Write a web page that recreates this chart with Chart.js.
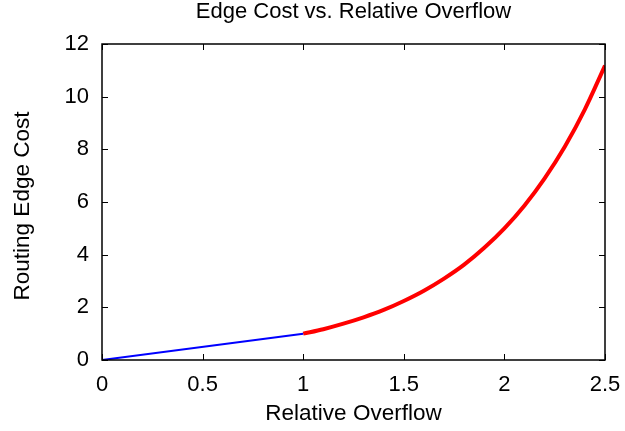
<!DOCTYPE html>
<html>
<head>
<meta charset="utf-8">
<script src="https://cdn.jsdelivr.net/npm/chart.js@4/dist/chart.umd.min.js"></script>
<style>
html,body{margin:0;padding:0;background:#fff;}
canvas{display:block;}
</style>
</head>
<body>
<canvas id="c" width="625" height="431"></canvas>
<script>
const titleText = 'Edge Cost vs. Relative Overflow';
const xAxisTitle = 'Relative Overflow';
const yAxisTitle = 'Routing Edge Cost';
const xTicks = [0, 0.5, 1, 1.5, 2, 2.5];
const yTicks = [0, 2, 4, 6, 8, 10, 12];

const linearX = [0, 1];
const linearY = [0, 1];

const overflowX = [1.0, 1.1, 1.2, 1.3, 1.4, 1.5, 1.6, 1.7, 1.8, 1.9, 2.0, 2.1, 2.2, 2.3, 2.4, 2.5];
const overflowY = [1.00, 1.17, 1.38, 1.62, 1.90, 2.24, 2.63, 3.09, 3.62, 4.26, 5.00, 5.87, 6.90, 8.10, 9.52, 11.18];

const FONT = "'Liberation Sans', Arial, sans-serif";

const zip = (xs, ys) => xs.map((x, i) => ({x, y: ys[i]}));

const frameTicks = {
  id: 'frameTicks',
  afterDraw(chart) {
    const {ctx, chartArea: a, scales: {x, y}} = chart;
    ctx.save();
    ctx.strokeStyle = '#000';
    ctx.lineWidth = 1;
    ctx.beginPath();
    xTicks.forEach(v => {
      const px = Math.round(x.getPixelForValue(v)) + 0.5;
      ctx.moveTo(px, a.bottom); ctx.lineTo(px, a.bottom - 6);
      ctx.moveTo(px, a.top); ctx.lineTo(px, a.top + 6);
    });
    yTicks.forEach(v => {
      const py = Math.round(y.getPixelForValue(v)) + 0.5;
      ctx.moveTo(a.left, py); ctx.lineTo(a.left + 6, py);
      ctx.moveTo(a.right, py); ctx.lineTo(a.right - 6, py);
    });
    ctx.stroke();
    ctx.lineWidth = 1.5;
    ctx.strokeRect(a.left, a.top, a.right - a.left, a.bottom - a.top);
    ctx.fillStyle = '#000';
    ctx.textAlign = 'center';
    ctx.textBaseline = 'middle';
    // chart title, centred over the plot area
    ctx.font = "22px " + FONT;
    ctx.fillText(titleText, (a.left + a.right) / 2, 12);
    // y axis title
    ctx.font = "22.5px " + FONT;
    ctx.translate(23, (a.top + a.bottom) / 2 + 4);
    ctx.rotate(-Math.PI / 2);
    ctx.fillText(yAxisTitle, 0, 0);
    ctx.restore();
  }
};

new Chart(document.getElementById('c'), {
  type: 'line',
  data: {
    datasets: [
      {
        data: zip(linearX, linearY),
        borderColor: '#0000ff',
        borderWidth: 2,
        pointRadius: 0,
        tension: 0
      },
      {
        data: zip(overflowX, overflowY),
        borderColor: '#ff0000',
        borderWidth: 4,
        pointRadius: 0,
        cubicInterpolationMode: 'monotone'
      }
    ]
  },
  options: {
    responsive: false,
    animation: false,
    devicePixelRatio: 1,
    layout: {padding: {left: 0, right: 20, top: 44, bottom: 0}},
    plugins: {
      legend: {display: false},
      tooltip: {enabled: false},
      title: {display: false}
    },
    scales: {
      x: {
        type: 'linear',
        min: 0, max: 2.5,
        afterBuildTicks(s) { s.ticks = xTicks.map(v => ({value: v})); },
        afterFit(s) { s.height = 71; s.paddingLeft = 0; s.paddingRight = 0; },
        ticks: {
          color: '#000',
          font: {family: FONT, size: 22},
          padding: 12,
          maxRotation: 0,
          callback: v => String(v)
        },
        grid: {display: false, drawTicks: false},
        border: {display: false},
        title: {
          display: true,
          text: xAxisTitle,
          color: '#000',
          font: {family: FONT, size: 22.5, lineHeight: 1.2},
          padding: {top: 5, bottom: 4}
        }
      },
      y: {
        type: 'linear',
        min: 0, max: 12,
        afterBuildTicks(s) { s.ticks = yTicks.map(v => ({value: v})); },
        afterFit(s) { s.width = 102; s.paddingTop = 0; s.paddingBottom = 0; },
        ticks: {
          color: '#000',
          font: {family: FONT, size: 22},
          padding: 13,
          callback: v => String(v)
        },
        grid: {display: false, drawTicks: false},
        border: {display: false},
        title: {display: false}
      }
    }
  },
  plugins: [frameTicks]
});
</script>
</body>
</html>
